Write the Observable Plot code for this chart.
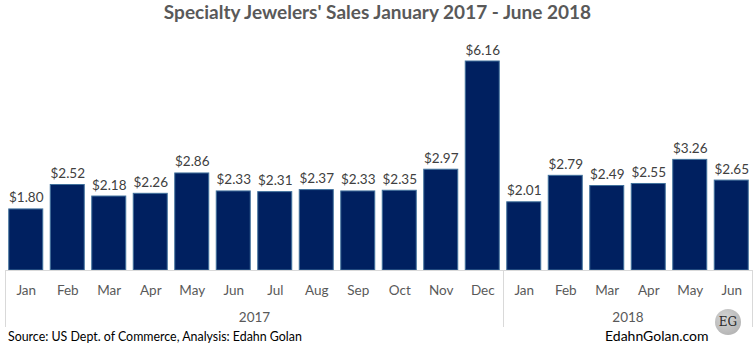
<!DOCTYPE html>
<html>
<head>
<meta charset="utf-8">
<script src="https://cdn.jsdelivr.net/npm/d3@7"></script>
<script src="https://cdn.jsdelivr.net/npm/@observablehq/plot@0.6"></script>
<style>
  html, body { margin: 0; padding: 0; background: #fff; }
  #wrap { position: relative; width: 755px; height: 344px; overflow: hidden; font-family: Lato, "Open Sans", sans-serif; }
  #title { position: absolute; left: 0; width: 755px; top: 0; line-height: 23px; text-align: center; font-weight: bold; font-size: 19px; color: #595959; }
  #chart { position: absolute; left: 0; top: 30px; }
  #source { position: absolute; left: 8px; top: 329px; font-size: 12.4px; color: #000; line-height: 16px; }
  #site { position: absolute; left: 605px; top: 327px; font-size: 14px; color: #000; line-height: 18px; }
  #logo { position: absolute; left: 715px; top: 309px; width: 26px; height: 26px; border-radius: 50%; background: radial-gradient(circle at 40% 35%, #d4d4d4, #ababab); color: #2a2a2a; font-family: "DejaVu Serif", serif; font-size: 12px; line-height: 26px; text-align: center; }
</style>
</head>
<body>
<div id="wrap">
  <div id="title">Specialty Jewelers' Sales January 2017 - June 2018</div>
  <div id="chart"></div>
  <div id="source">Source: US Dept. of Commerce, Analysis: Edahn Golan</div>
  <div id="site">EdahnGolan.com</div>
  <div id="logo">EG</div>
</div>
<script>
const months = ["Jan","Feb","Mar","Apr","May","Jun","Jul","Aug","Sep","Oct","Nov","Dec","Jan","Feb","Mar","Apr","May","Jun"];
const years = ["2017","2017","2017","2017","2017","2017","2017","2017","2017","2017","2017","2017","2018","2018","2018","2018","2018","2018"];
const sales = [1.80,2.52,2.18,2.26,2.86,2.33,2.31,2.37,2.33,2.35,2.97,6.16,2.01,2.79,2.49,2.55,3.26,2.65];
const groupNames = ["2017","2018"];

const data = sales.map((v, i) => ({i, month: months[i], year: years[i], value: v}));
const groups = groupNames.map(g => {
  const idx = data.filter(d => d.year === g).map(d => d.i);
  return {name: g, start: d3.min(idx), end: d3.max(idx) + 1, mid: (d3.min(idx) + d3.max(idx) + 1) / 2};
});
const boundaries = [...groups.map(g => g.start), groups[groups.length - 1].end];

const chart = Plot.plot({
  width: 755,
  height: 300,
  marginLeft: 5,
  marginRight: 3,
  marginTop: 31,
  marginBottom: 60,
  style: {fontFamily: "Lato, 'Open Sans', sans-serif", background: "transparent"},
  x: {type: "linear", domain: [0, sales.length], axis: null, label: null},
  y: {domain: [0, d3.max(sales)], axis: null, label: null},
  marks: [
    Plot.rectY(data, {x1: "i", x2: d => d.i + 1, y: "value", insetLeft: 3.75, insetRight: 3.75, fill: "#002060", stroke: "#41719c", strokeWidth: 1}),
    Plot.text(data, {x: d => d.i + 0.5, y: "value", text: d => "$" + d.value.toFixed(2), lineAnchor: "bottom", dy: -7, fontSize: 13.5, fill: "#404040"}),
    Plot.ruleY([0], {stroke: "#d9d9d9", strokeWidth: 1}),
    Plot.axisX(boundaries, {tickSize: 57, tickFormat: () => "", stroke: "#d9d9d9", label: null}),
    Plot.axisX(data.map(d => d.i + 0.5), {tickSize: 0, tickPadding: 15, tickFormat: v => months[Math.floor(v)], fontSize: 13.5, fill: "#595959", label: null}),
    Plot.axisX(groups.map(g => g.mid), {tickSize: 0, tickPadding: 42, tickFormat: v => groups.find(g => g.mid === v).name, fontSize: 13.5, fill: "#595959", label: null})
  ]
});
document.getElementById("chart").appendChild(chart);
</script>
</body>
</html>
